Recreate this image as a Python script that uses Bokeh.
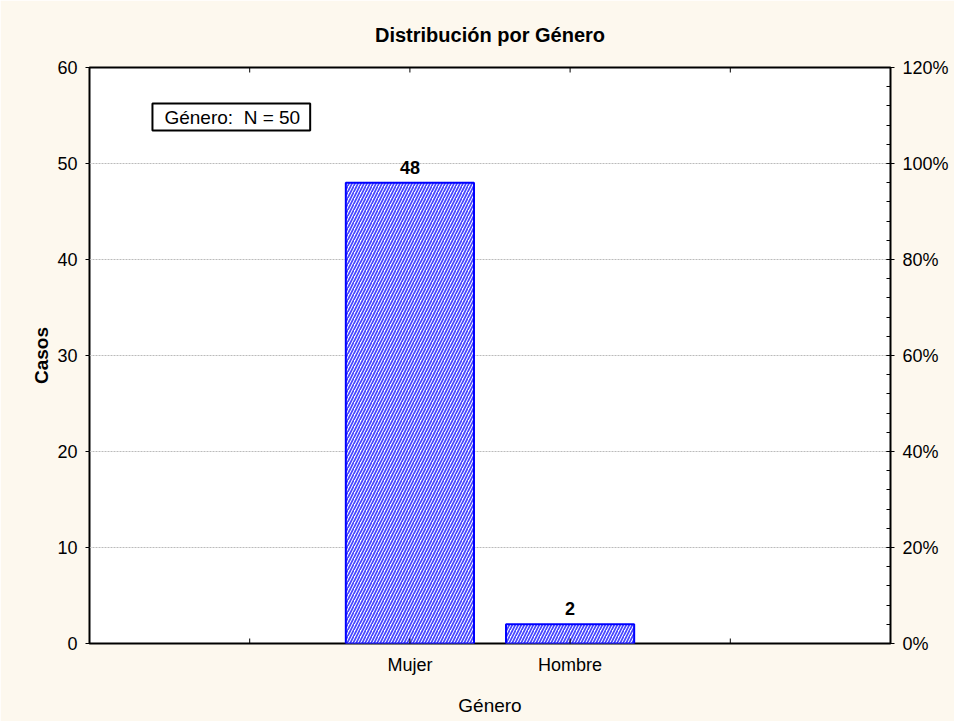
import math
from bokeh.plotting import figure
from bokeh.models import (LinearAxis, Range1d, FixedTicker, SingleIntervalTicker,
                          PrintfTickFormatter, Label, LabelSet, ColumnDataSource, Title)
from bokeh.core.properties import value
from bokeh.embed import file_html
from bokeh.resources import INLINE

categories = ["Mujer", "Hombre"]
counts = [48, 2]
x_slots = [1, 2, 3, 4]          # category slots on the x scale (first / last empty)
title_text = "Distribución por Género"
x_label = "Género"
y_label = "Casos"

FONT = "Liberation Sans"
BG = "#fdf8ee"

n_total = sum(counts)
xpos = [x_slots[i + 1] for i in range(len(categories))]
labels = {t: "" for t in x_slots}
for xp, c in zip(xpos, categories):
    labels[xp] = c

src = ColumnDataSource(dict(x=xpos, y=counts, lab=[str(c) for c in counts]))

p = figure(frame_width=801, frame_height=576, min_border_left=89, min_border_right=64,
           min_border_top=67, min_border_bottom=78,
           x_range=Range1d(0, 5), y_range=Range1d(0, 60),
           output_backend="svg", toolbar_location=None,
           background_fill_color="white", border_fill_color=BG)
p.outline_line_color = "black"
p.outline_line_width = 2

p.extra_y_ranges = {"pct": Range1d(0, 120)}

# bars
p.vbar(x="x", top="y", width=0.8, source=src, fill_color="white", line_color="#0000ff",
       line_width=2, hatch_pattern="/", hatch_color="#4646ff", hatch_scale=6, hatch_weight=1.7)
p.add_layout(LabelSet(x="x", y="y", text="lab", source=src, text_align="center",
                      text_baseline="bottom", y_offset=9, text_font=value(FONT),
                      text_font_style="bold", text_font_size="18px", text_color="black"))

# inner tick marks on the top and bottom frame edges
for yy in (0, 60):
    p.scatter(x=x_slots, y=[yy] * len(x_slots), marker="dash", angle=math.pi / 2,
              size=10, line_color="black", line_width=1)

xa = p.xaxis[0]
xa.ticker = FixedTicker(ticks=xpos)
xa.major_label_overrides = {k: v for k, v in labels.items() if v}
xa.major_tick_line_color = None
xa.minor_tick_line_color = None
xa.axis_line_color = None
xa.major_label_text_font = FONT
xa.major_label_text_font_size = "18px"
xa.major_label_text_color = "black"
xa.major_label_standoff = 5
xa.axis_label = x_label
xa.axis_label_text_font = FONT
xa.axis_label_text_font_style = "normal"
xa.axis_label_text_font_size = "19px"
xa.axis_label_text_color = "black"
xa.axis_label_standoff = 17

ya = p.yaxis[0]
ya.ticker = SingleIntervalTicker(interval=10, num_minor_ticks=0)
ya.major_tick_in = 0
ya.major_tick_out = 4
ya.minor_tick_line_color = None
ya.axis_line_color = None
ya.major_label_text_font = FONT
ya.major_label_text_font_size = "18px"
ya.major_label_text_color = "black"
ya.major_label_standoff = 8
ya.axis_label = y_label
ya.axis_label_text_font = FONT
ya.axis_label_text_font_style = "bold"
ya.axis_label_text_font_size = "19px"
ya.axis_label_text_color = "black"
ya.axis_label_standoff = 2

ra = LinearAxis(y_range_name="pct", ticker=SingleIntervalTicker(interval=20, num_minor_ticks=5),
                formatter=PrintfTickFormatter(format="%d%%"),
                major_tick_in=4, major_tick_out=4, minor_tick_in=4, minor_tick_out=0,
                axis_line_color=None, major_label_text_font=FONT,
                major_label_text_color="black",
                major_label_text_font_size="18px", major_label_standoff=8)
p.add_layout(ra, "right")

p.xgrid.grid_line_color = None
p.ygrid.ticker = SingleIntervalTicker(interval=10, num_minor_ticks=0)
p.ygrid.grid_line_color = "#bbbbbb"
p.ygrid.grid_line_dash = "2 1"
p.ygrid.grid_line_width = 1

p.title = Title(text=title_text, align="center", text_font=FONT, text_font_style="bold",
                text_font_size="20px", text_color="black", standoff=43)

p.add_layout(Label(x=0.393, y=56.25, text=f"Género:\u00a0\u00a0N = {n_total}", text_align="left",
                   text_baseline="top", text_font=FONT, text_font_size="19px",
                   text_color="black",
                   border_line_color="black", border_line_width=2,
                   background_fill_color="white", padding=(12, 10, 3, 3)))

open("out.html", "w").write(file_html(p, INLINE))
